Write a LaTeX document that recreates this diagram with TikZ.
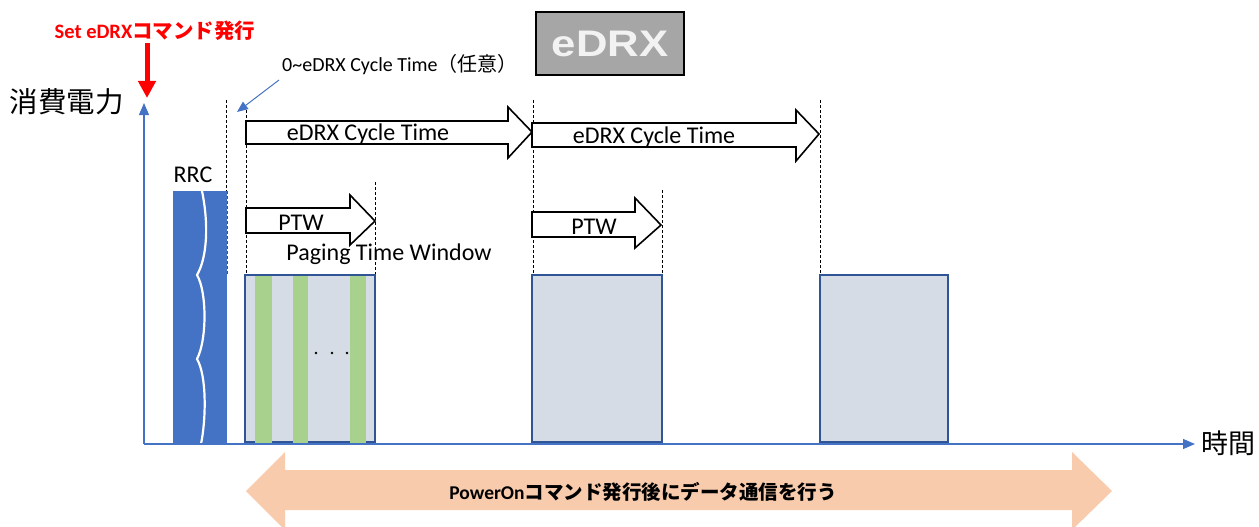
\documentclass[tikz,border=0pt]{standalone}
\usepackage{fontspec}
\setmainfont{Carlito}
\newfontfamily\jp{Noto Sans CJK JP}
\newfontfamily\arialf{Liberation Sans}
\usetikzlibrary{arrows.meta}
\definecolor{axisblue}{HTML}{4472C4}
\definecolor{boxfill}{HTML}{D6DCE5}
\definecolor{boxline}{HTML}{2F5597}
\definecolor{barg}{HTML}{A9D18E}
\definecolor{peach}{HTML}{F8CBAD}
\definecolor{edrxgray}{HTML}{A6A6A6}
\definecolor{edrxtxt}{HTML}{F2F2F2}
\definecolor{cmdred}{HTML}{FF0000}
\begin{document}
\begin{tikzpicture}[x=1pt,y=-1pt,
  guide/.style={draw=black, line width=0.7pt, dash pattern=on 3pt off 2pt},
  bigarrow/.style={draw=black, line width=1.6pt, fill=white, line join=miter},
  lbl/.style={font=\fontsize{24}{28}\selectfont, inner sep=0pt, anchor=base},
  psbox/.style={fill=boxfill, draw=boxline, line width=1.6pt},
  gbar/.style={fill=barg, draw=none},
  axisline/.style={draw=axisblue, line width=1.2pt, -{Triangle[length=12pt,width=10pt]}},
  plain/.style={inner sep=0pt}]
\useasboundingbox (0,0) rectangle (1259,527);

% guide lines
\draw[guide] (226,100) -- (226,275);
\draw[guide] (246,110) -- (246,275);
\draw[guide] (375,182) -- (375,360);
\draw[guide] (533,100) -- (533,275);
\draw[guide] (662,190) -- (662,275);
\draw[guide] (820,100) -- (820,275);

% RRC block
\fill[axisblue] (173,191) rectangle (227,444);
\draw[white, line width=2.2pt] (202,191) .. controls (209,225) and (207,258) .. (197,275)
  .. controls (207,292) and (207,340) .. (197,359)
  .. controls (207,376) and (206,420) .. (201,444);
\draw[guide, draw=boxline] (227,191) -- (227,275);
\node[lbl] (rrc) at (193,182) {RRC};

% power boxes
\draw[psbox] (245,275) rectangle (375,442);
\fill[gbar] (255,276) rectangle (272,443);
\fill[gbar] (293,276) rectangle (308,443);
\fill[gbar] (350,276) rectangle (366,443);
\fill (316,353) circle (1.3) (332,353) circle (1.3) (347,353) circle (1.3);
\draw[psbox] (532,275) rectangle (662,442);
\draw[psbox] (820,275) rectangle (948,442);

% cycle arrows
\draw[bigarrow] (246,121) -- (508,121) -- (508,107) -- (532,132) -- (508,158) -- (508,144) -- (246,144) -- cycle;
\draw[bigarrow] (532,123) -- (796,123) -- (796,110) -- (819,134) -- (796,161) -- (796,147) -- (532,147) -- cycle;
\node[lbl] (cyc1) at (368,140) {eDRX Cycle Time};
\node[lbl] (cyc2) at (654,143) {eDRX Cycle Time};

% PTW arrows
\draw[bigarrow] (246,208) -- (350,208) -- (350,195) -- (375,221) -- (350,245) -- (350,233) -- (246,233) -- cycle;
\draw[bigarrow] (532,212) -- (635,212) -- (635,198) -- (661,225) -- (635,248) -- (635,237) -- (532,237) -- cycle;
\node[lbl] (ptw1) at (301,230) {PTW};
\node[lbl] (ptw2) at (594,234) {PTW};
\node[lbl] (ptwin) at (389,260) {Paging Time Window};

% axes
\coordinate (origin) at (144,444);
\coordinate (ytip) at (144,103);
\coordinate (xtip) at (1195,444);
\draw[axisline] (origin) -- (ytip);
\draw[axisline] (origin) -- (xtip);
\node[plain, font=\jp\fontsize{28.5}{30}\selectfont, anchor=east] (ylab) at (124,102) {消費電力};
\node[plain, font=\jp\fontsize{27}{30}\selectfont, anchor=west] (xlab) at (1201,443) {時間};

% command
\node[plain, anchor=base, text=cmdred, font=\bfseries\fontsize{20.5}{24}\selectfont] (cmd) at (155,39) {Set eDRX{\jp\bfseries コマンド発行}};
\coordinate (cmdtop) at (147,43);
\coordinate (cmdtip) at (147,98);
\draw[cmdred, line width=5pt, -{Triangle[length=17pt,width=17pt]}] (cmdtop) -- (cmdtip);

% optional offset
\node[plain, anchor=base west, font=\fontsize{20}{24}\selectfont] (opt) at (282,72) {0\textasciitilde eDRX Cycle Time{\jp （任意）}};
\coordinate (optstart) at (279,80);
\coordinate (opttip) at (237,112);
\draw[axisblue, line width=1pt, -{Triangle[length=11pt,width=9pt]}] (optstart) -- (opttip);

% eDRX title box
\node[draw=black, line width=1.8pt, fill=edrxgray, minimum width=148pt, minimum height=63pt, inner sep=0pt] (title) at (610,43.5)
  {\arialf\bfseries\color{edrxtxt}\fontsize{37}{40}\selectfont\scalebox{1.18}[1]{eDRX}};

% bottom double arrow
\begin{scope}
\clip (0,0) rectangle (1259,527);
\fill[peach] (246,491) -- (285,452) -- (285,470) -- (1072,470) -- (1072,452) -- (1112,491) -- (1072,530) -- (1072,510) -- (285,510) -- (285,530) -- cycle;
\end{scope}
\node[plain, font=\bfseries\fontsize{19.5}{22}\selectfont] (note) at (643,492) {PowerOn{\jp\bfseries コマンド発行後にデータ通信を行う}};
\end{tikzpicture}
\end{document}
